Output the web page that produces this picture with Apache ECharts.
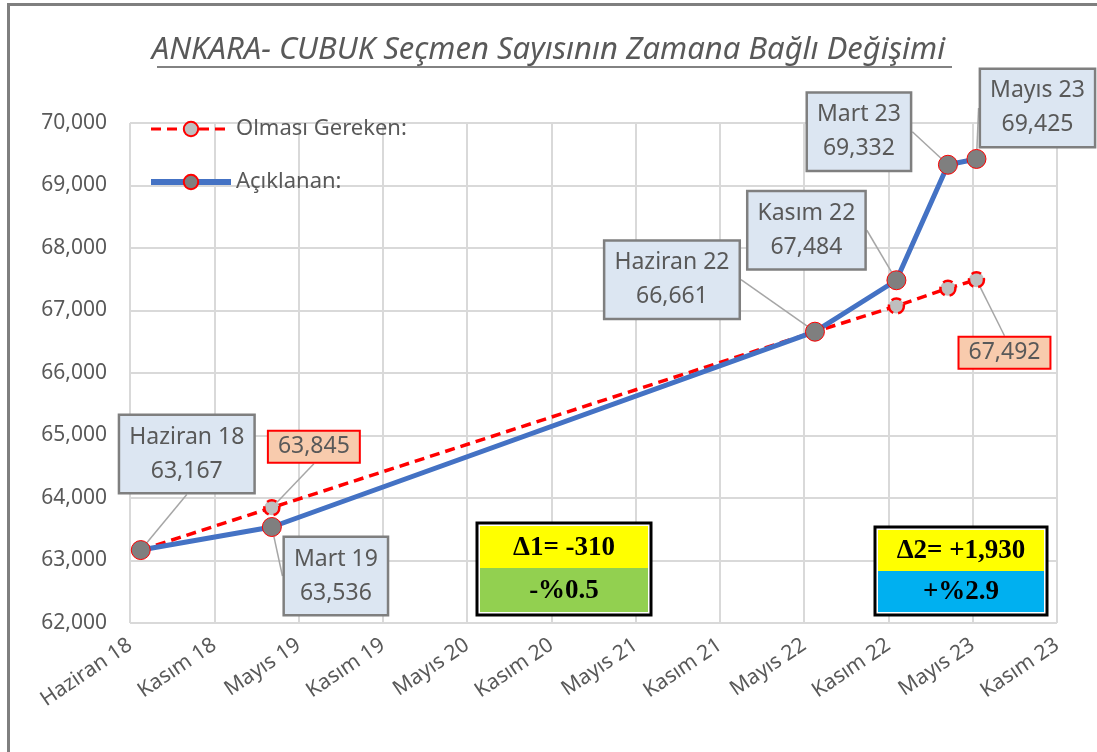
<!DOCTYPE html>
<html>
<head>
<meta charset="utf-8">
<script src="https://cdn.jsdelivr.net/npm/echarts@6/dist/echarts.min.js"></script>
<style>
  html, body { margin: 0; padding: 0; background: #fff; }
  #chart { width: 1097px; height: 752px; }
</style>
</head>
<body>
<div id="chart"></div>
<script>
  // axis tick labels, one per 180 days from the axis start
  const axisStart = '2018-06-01'
  const tickDays = 180
  const tickLabels = ['Haziran 18', 'Kasım 18', 'Mayıs 19', 'Kasım 19', 'Mayıs 20', 'Kasım 20',
    'Mayıs 21', 'Kasım 21', 'Mayıs 22', 'Kasım 22', 'Mayıs 23', 'Kasım 23']

  // data points
  const pointDates = ['2018-06-24', '2019-03-31', '2022-06-03', '2022-11-24', '2023-03-14', '2023-05-14']
  const pointNames = ['Haziran 18', 'Mart 19', 'Haziran 22', 'Kasım 22', 'Mart 23', 'Mayıs 23']
  const announced = [63167, 63536, 66661, 67484, 69332, 69425]   // Açıklanan
  const expected = [63167, 63845, 66661, 67072, 67355, 67492]    // Olması Gereken
  const expectedLabelled = [1, 5]

  // label box offsets from their point (pixels)
  const announcedOffsets = [[46, -96], [64, 49], [-143, -52], [-90, -50], [-89, -33], [61, -51]]
  const expectedOffsets = [[0, 0], [42, -61], [0, 0], [0, 0], [0, 0], [28, 73]]

  const font = 'Noto Sans'
  const fmt = v => v.toLocaleString('en-US')
  const dayOf = d => Math.round((Date.parse(d) - Date.parse(axisStart)) / 86400000)
  const days = pointDates.map(dayOf)

  let chart = echarts.init(document.getElementById('chart'))

  let option = {
    backgroundColor: '#fff',
    textStyle: {fontFamily: font},
    title: {
      text: 'ANKARA- CUBUK Seçmen Sayısının Zamana Bağlı Değişimi',
      left: 'center',
      top: 30,
      textStyle: {fontFamily: font, fontSize: 31, fontStyle: 'italic', fontWeight: 'normal', color: '#595959'}
    },
    legend: {
      orient: 'vertical',
      left: 143,
      top: 113,
      itemWidth: 80,
      itemHeight: 18,
      itemGap: 31,
      textStyle: {fontSize: 22, color: '#595959', fontFamily: font},
      data: [
        {name: 'Olması Gereken:', lineStyle: {width: 3}},
        {name: 'Açıklanan:', lineStyle: {width: 6}}
      ]
    },
    grid: {left: 130, right: 40, top: 123, bottom: 129},
    xAxis: {
      type: 'value',
      min: 0,
      max: tickDays * (tickLabels.length - 1),
      interval: tickDays,
      axisLine: {show: false},
      axisTick: {show: false},
      splitLine: {lineStyle: {color: '#d9d9d9', width: 2}},
      axisLabel: {
        rotate: 34,
        margin: 20,
        fontSize: 21,
        color: '#595959',
        formatter: v => tickLabels[Math.round(v / tickDays)]
      }
    },
    yAxis: {
      type: 'value',
      min: 62000,
      max: 70000,
      interval: 1000,
      axisLine: {show: false},
      axisTick: {show: false},
      splitLine: {lineStyle: {color: '#d9d9d9', width: 2}},
      axisLabel: {fontSize: 21, color: '#595959', margin: 23, formatter: v => fmt(v)}
    },
    series: [
      {
        name: 'Olması Gereken:',
        type: 'line',
        z: 2,
        symbol: 'circle',
        symbolSize: 15,
        lineStyle: {color: '#ff0000', width: 3.5, type: [10, 6]},
        itemStyle: {color: '#bfbfbf', borderColor: '#ff0000', borderWidth: 2.5, borderType: 'dashed'},
        label: {
          show: false,
          position: 'inside',
          formatter: p => fmt(p.value[1]),
          fontSize: 23,
          color: '#595959',
          backgroundColor: '#f8cbad',
          borderColor: '#ff0000',
          borderWidth: 2,
          padding: [4, 9, 3, 9]
        },
        labelLine: {show: true, lineStyle: {color: '#a6a6a6', width: 1.5}},
        labelLayout: p => ({dx: expectedOffsets[p.dataIndex][0], dy: expectedOffsets[p.dataIndex][1]}),
        data: expected.map((v, i) => ({
          value: [days[i], v],
          label: {show: expectedLabelled.includes(i)}
        }))
      },
      {
        name: 'Açıklanan:',
        type: 'line',
        z: 3,
        symbol: 'circle',
        symbolSize: 19,
        lineStyle: {color: '#4472c4', width: 5},
        itemStyle: {color: '#7f7f7f', borderColor: '#ff0000', borderWidth: 1},
        label: {
          show: true,
          position: 'inside',
          formatter: p => pointNames[p.dataIndex] + '\n' + fmt(p.value[1]),
          fontSize: 23,
          lineHeight: 34,
          color: '#595959',
          backgroundColor: '#dce6f2',
          borderColor: '#7f7f7f',
          borderWidth: 2.5,
          padding: [5, 9, 3, 9]
        },
        labelLine: {show: true, lineStyle: {color: '#a6a6a6', width: 1.5}},
        labelLayout: p => ({dx: announcedOffsets[p.dataIndex][0], dy: announcedOffsets[p.dataIndex][1]}),
        data: announced.map((v, i) => [days[i], v])
      }
    ],
    graphic: [
      // chart frame
      {type: 'rect', shape: {x: 8.5, y: 4.5, width: 1120, height: 780}, style: {fill: 'none', stroke: '#7f7f7f', lineWidth: 3}, silent: true},
      // title underline
      {type: 'line', shape: {x1: 157, y1: 67, x2: 952, y2: 67}, style: {stroke: '#595959', lineWidth: 1.5}},
      // delta box 1
      {type: 'rect', z: 10, shape: {x: 477, y: 523, width: 174, height: 92}, style: {fill: '#fff', stroke: '#000', lineWidth: 3}},
      {type: 'rect', z: 11, shape: {x: 480, y: 526, width: 168, height: 42}, style: {fill: '#ffff00'}},
      {type: 'rect', z: 11, shape: {x: 480, y: 568, width: 168, height: 44}, style: {fill: '#92d050'}},
      {type: 'text', z: 12, x: 564, y: 548, style: {text: 'Δ1= -310', font: 'bold 27px "Liberation Serif"', fill: '#000', align: 'center', verticalAlign: 'middle'}},
      {type: 'text', z: 12, x: 564, y: 591, style: {text: '-%0.5', font: 'bold 27px "Liberation Serif"', fill: '#000', align: 'center', verticalAlign: 'middle'}},
      // delta box 2
      {type: 'rect', z: 10, shape: {x: 875, y: 527, width: 172, height: 88}, style: {fill: '#fff', stroke: '#000', lineWidth: 3}},
      {type: 'rect', z: 11, shape: {x: 878, y: 530, width: 166, height: 41}, style: {fill: '#ffff00'}},
      {type: 'rect', z: 11, shape: {x: 878, y: 571, width: 166, height: 41}, style: {fill: '#00b0f0'}},
      {type: 'text', z: 12, x: 961, y: 551, style: {text: 'Δ2= +1,930', font: 'bold 27px "Liberation Serif"', fill: '#000', align: 'center', verticalAlign: 'middle'}},
      {type: 'text', z: 12, x: 961, y: 592, style: {text: '+%2.9', font: 'bold 27px "Liberation Serif"', fill: '#000', align: 'center', verticalAlign: 'middle'}}
    ]
  }

  chart.setOption(option)
  window.onresize = () => {
    chart.resize()
  }
</script>
</body>
</html>
